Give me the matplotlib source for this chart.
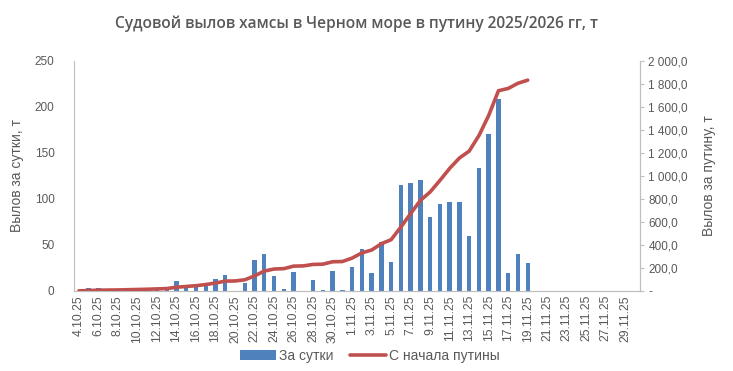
import matplotlib
matplotlib.use("Agg")
import matplotlib.pyplot as plt
import matplotlib.ticker as mticker
import numpy as np

# ── Colours ───────────────────────────────────────────────────────────────────
BLUE = "#4F81BD"
RED = "#C0504D"
GREY = "#595959"
SPINE = "#BFBFBF"

plt.rcParams.update({
    "font.family": ["Liberation Sans", "DejaVu Sans"],
    "figure.facecolor": "white",
    "axes.facecolor": "white",
})

# ── Data ──────────────────────────────────────────────────────────────────────
oct_days = [f"{d}.10.25" for d in range(4, 32)]
nov_days = [f"{d}.11.25" for d in range(1, 31)]
DATES = oct_days + nov_days

DAILY = [0, 3, 3, 1, 1, 1, 2, 2, 2, 3, 11, 5, 6, 8, 13, 17, 0, 9, 34, 40,
         16, 2, 21, 0, 12, 1, 22, 1, 26, 45, 19, 53, 31, 115, 117, 121, 80,
         94, 97, 97, 60, 133, 171, 209, 19, 40, 30]

SEASON = [0, 3, 6, 7, 8, 10, 12, 14, 17, 20, 32, 38, 45, 55, 68, 85, 86, 96,
          130, 172, 190, 193, 215, 217, 230, 232, 253, 255, 285, 330, 355,
          410, 445, 555, 672, 786, 860, 960, 1065, 1155, 1215, 1350, 1525,
          1740, 1760, 1805, 1832]


def ru_fmt(v, pos):
    if v == 0:
        return "-"
    return f"{v:,.1f}".replace(",", " ").replace(".", ",")


fig = plt.figure(figsize=(7.33, 3.71), dpi=100)
ax = fig.add_axes([0.101, 0.216, 0.772, 0.62])
ax2 = ax.twinx()

x = np.arange(len(DATES))
xd = np.arange(len(DAILY))

bars = ax.bar(xd, DAILY, width=0.45, color=BLUE, zorder=2, label="За сутки")
line, = ax2.plot(xd, SEASON, color=RED, lw=2.6, zorder=3,
                 solid_capstyle="round", label="С начала путины")

ax.set_xlim(-0.5, len(DATES) - 0.5)
ax.set_ylim(0, 250)
ax2.set_ylim(0, 2000)
ax.set_yticks(np.arange(0, 251, 50))
ax2.set_yticks(np.arange(0, 2001, 200))
ax2.yaxis.set_major_formatter(mticker.FuncFormatter(ru_fmt))

ax.set_xticks(x[::2])
ax.set_xticklabels(DATES[::2], rotation=90, fontsize=8.8, color=GREY)
ax.tick_params(axis="x", length=0, pad=3)
ax.tick_params(axis="y", length=0, labelsize=8.5, labelcolor=GREY, pad=14)
ax2.tick_params(axis="y", length=3, color=SPINE, labelsize=8.5,
                labelcolor=GREY, pad=3)

for a in (ax, ax2):
    a.spines["top"].set_visible(False)
    for s in ("left", "right", "bottom"):
        a.spines[s].set_color(SPINE)
ax2.spines["left"].set_visible(False)

ax.set_ylabel("Вылов за сутки, т", fontsize=10, color=GREY, labelpad=8)
ax2.set_ylabel("Вылов за путину, т", fontsize=10, color=GREY, labelpad=10)

fig.text(0.486, 0.935, "Судовой вылов хамсы в Черном море в путину 2025/2026 гг, т",
         ha="center", va="center", fontsize=11.2, fontweight="semibold",
         color=GREY, family=["Open Sans", "DejaVu Sans"])

fig.legend(handles=[bars, line], loc="center", bbox_to_anchor=(0.505, 0.04),
           ncol=2, frameon=False, fontsize=10, handlelength=2.6,
           handletextpad=0.2, columnspacing=1.2, labelcolor=GREY)

fig.savefig("out.png", dpi=100)
